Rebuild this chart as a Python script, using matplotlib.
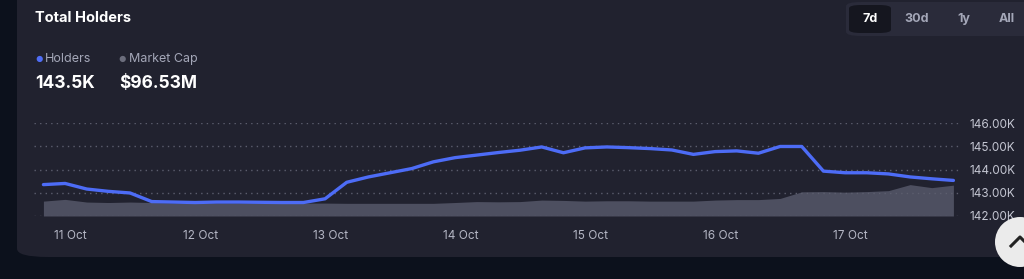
import matplotlib
matplotlib.use("Agg")
import matplotlib.pyplot as plt
import matplotlib.dates as mdates
from matplotlib.patches import FancyBboxPatch, Ellipse
from matplotlib.ticker import FuncFormatter, FixedLocator
import pandas as pd

plt.rcParams['font.family'] = ['Inter', 'DejaVu Sans']

# ---- data ----
times = pd.date_range('2024-10-10 19:00', periods=43, freq='4h')
holders_k = [143.35, 143.40, 143.16, 143.06, 142.99, 142.62, 142.60, 142.58, 142.60, 142.60,
             142.59, 142.58, 142.58, 142.74, 143.45, 143.68, 143.86, 144.04, 144.33, 144.51,
             144.62, 144.73, 144.83, 144.97, 144.72, 144.93, 144.97, 144.94, 144.90, 144.84,
             144.65, 144.77, 144.80, 144.70, 144.99, 144.99, 143.93, 143.86, 143.86, 143.81,
             143.68, 143.60, 143.53]
market_cap_m = [82.8, 84.3, 82.0, 81.6, 82.0, 81.6, 81.1, 81.1, 81.1, 81.1,
                81.1, 81.1, 81.1, 81.1, 80.9, 80.9, 80.9, 80.9, 80.9, 81.6,
                82.4, 82.2, 82.4, 83.7, 83.4, 82.8, 83.1, 83.1, 82.8, 82.8,
                82.8, 83.7, 84.1, 84.1, 85.1, 90.8, 91.0, 90.5, 91.0, 91.8,
                97.0, 94.4, 96.53]
y_ticks = [142.0, 143.0, 144.0, 145.0, 146.0]
range_buttons = ['7d', '30d', '1y', 'All']
title = 'Total Holders'
holders_label = '143.5K'
mcap_label = '$96.53M'

W, H = 1024, 279
fig = plt.figure(figsize=(W / 100, H / 100), dpi=100)
fig.patch.set_facecolor('#0c111c')

# card background
card = FancyBboxPatch((17 / W, 1 - 257 / H), (1100 - 17) / W, (257 + 30) / H,
                      boxstyle='round,pad=0,rounding_size=0.03', transform=fig.transFigure,
                      facecolor='#21222f', edgecolor='none', zorder=0)
fig.patches.append(card)

# range buttons group
grp = FancyBboxPatch((846 / W, 1 - 36 / H), 200 / W, 34 / H,
                     boxstyle='round,pad=0,rounding_size=0.015', transform=fig.transFigure,
                     facecolor='#2a2b3a', edgecolor='none', zorder=1)
fig.patches.append(grp)
sel = FancyBboxPatch((849 / W, 1 - 33 / H), 42 / W, 28 / H,
                     boxstyle='round,pad=0,rounding_size=0.012', transform=fig.transFigure,
                     facecolor='#15161f', edgecolor='none', zorder=2)
fig.patches.append(sel)
btn_x = [870, 917, 964, 1007]
for lab, bx in zip(range_buttons, btn_x):
    fig.text(bx / W, 1 - 19 / H, lab, ha='center', va='center', fontsize=9, fontweight='bold',
             color='#ffffff' if lab == '7d' else '#a4a7b8', zorder=3)

# header texts
fig.text(35 / W, 1 - 18 / H, title, ha='left', va='center', fontsize=10.5, fontweight='bold',
         color='#ffffff')
fig.text(35 / W, 1 - 59 / H, '●', ha='left', va='center', fontsize=6, color='#4f6df5')
fig.text(45 / W, 1 - 59 / H, 'Holders', ha='left', va='center', fontsize=9, color='#a4a7b8')
fig.text(118 / W, 1 - 59 / H, '●', ha='left', va='center', fontsize=6, color='#6b6d7c')
fig.text(129 / W, 1 - 59 / H, 'Market Cap', ha='left', va='center', fontsize=9, color='#a4a7b8')
fig.text(35 / W, 1 - 84 / H, holders_label, ha='left', va='center', fontsize=12.5,
         fontweight='bold', color='#ffffff')
fig.text(119 / W, 1 - 84 / H, mcap_label, ha='left', va='center', fontsize=12.5,
         fontweight='bold', color='#ffffff')

# main axes
ax = fig.add_axes([34 / W, 1 - 216 / H, (960 - 34) / W, 93 / H])
ax.set_facecolor('none')
ax2 = ax.twinx()
ax.set_zorder(3)
ax2.set_zorder(2)
ax.patch.set_visible(False)

ax2.fill_between(times, market_cap_m, 70, color='#4d4f60', linewidth=0)
ax2.set_ylim(70, 150)
ax2.axis('off')

ax.plot(times, holders_k, color='#4d6cf6', linewidth=2.4, solid_joinstyle='round',
        solid_capstyle='round', clip_on=False)
ax.set_ylim(142, 146)
x0 = pd.Timestamp('2024-10-11 00:00') - pd.Timedelta(hours=(70.5 - 34) / 130 * 24)
x1 = pd.Timestamp('2024-10-11 00:00') + pd.Timedelta(hours=(960 - 70.5) / 130 * 24)
ax.set_xlim(x0, x1)

ax.yaxis.set_major_locator(FixedLocator(y_ticks))
ax.yaxis.set_major_formatter(FuncFormatter(lambda v, p: f'{v:.2f}K'))
ax.yaxis.tick_right()
ax.grid(axis='y', color='#5c5e6e', linestyle=(0, (1, 3)), linewidth=1.0)
ax.xaxis.set_major_locator(mdates.DayLocator())
ax.xaxis.set_major_formatter(FuncFormatter(lambda v, p: f'{mdates.num2date(v).day} Oct'))
ax.tick_params(axis='y', length=0, pad=7, labelsize=8.5, labelcolor='#c4c6d2')
ax.tick_params(axis='x', length=0, pad=10, labelsize=8.5, labelcolor='#b4b6c4')
for s in ax.spines.values():
    s.set_visible(False)
for s in ax2.spines.values():
    s.set_visible(False)

# scroll-to-top button
circ = Ellipse((1020 / W, 1 - 242 / H), 50 / W, 50 / H, transform=fig.transFigure,
               facecolor='#ebebeb', edgecolor='none', zorder=5)
fig.patches.append(circ)
fig.lines.append(plt.Line2D([1011 / W, 1020 / W, 1029 / W], [1 - 246 / H, 1 - 237 / H, 1 - 246 / H],
                            transform=fig.transFigure, color='#222222', linewidth=2.2, zorder=6))

fig.savefig('out.png', dpi=100, facecolor=fig.get_facecolor())
